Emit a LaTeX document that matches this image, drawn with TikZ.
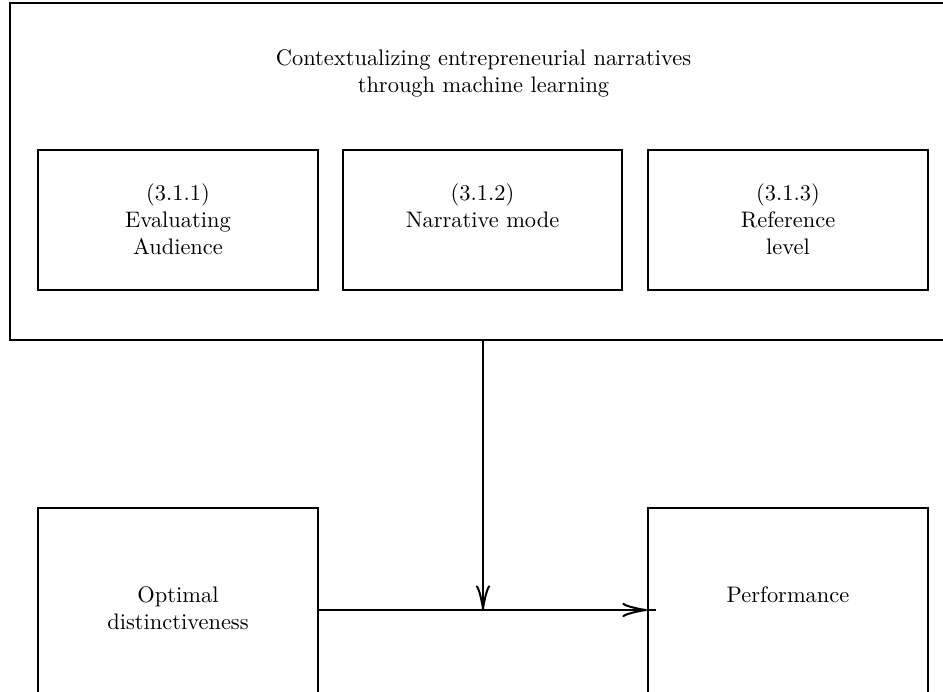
\documentclass[tikz,border=0pt]{standalone}
\usetikzlibrary{arrows.meta,positioning}
\begin{document}
\begin{tikzpicture}[x=0.4455pt,y=-0.4455pt,
  box/.style={draw,line width=0.9pt,inner sep=0pt,rectangle},
  txt/.style={align=center,anchor=north,inner sep=0pt},
  arr/.style={line width=0.9pt,-{Classical TikZ Rightarrow[length=11pt,width=6.5pt,line width=0.9pt]}}]
\path[use as bounding box] (0,0) rectangle (943,691);
\clip (0,0) rectangle (943,691);
% outer box
\node[box,minimum width=946*0.4455pt,minimum height=337*0.4455pt] (outer) at (483,171.5) {};
\node[txt] (title) at (483.5,49.5) {Contextualizing entrepreneurial narratives\\through machine learning};
% inner boxes
\node[box,minimum width=280*0.4455pt,minimum height=140*0.4455pt] (b1) at (178,220) {};
\node[box,minimum width=279*0.4455pt,minimum height=140*0.4455pt] (b2) at (482.5,220) {};
\node[box,minimum width=280*0.4455pt,minimum height=140*0.4455pt] (b3) at (788,220) {};
\node[txt] (t1) at (178,183) {(3.1.1)\\Evaluating\\Audience};
\node[txt] (t2) at (482.5,183) {(3.1.2)\\Narrative mode};
\node[txt] (t3) at (788,183) {(3.1.3)\\Reference\\level};
% bottom boxes
\node[box,minimum width=280*0.4455pt,minimum height=204*0.4455pt] (lb) at (178,610) {};
\node[box,minimum width=280*0.4455pt,minimum height=204*0.4455pt] (rb) at (788,610) {};
\node[txt] (tl) at (178,586) {Optimal\\distinctiveness};
\node[txt] (tr) at (788,586) {Performance};
% connectors
\coordinate (m) at (outer.south |- lb.east);
\draw[arr] (lb.east) -- (rb.west);
\draw[line width=0.9pt] (rb.west) -- ++(9,0);
\draw[arr] (outer.south) -- (m);
\end{tikzpicture}
\end{document}
